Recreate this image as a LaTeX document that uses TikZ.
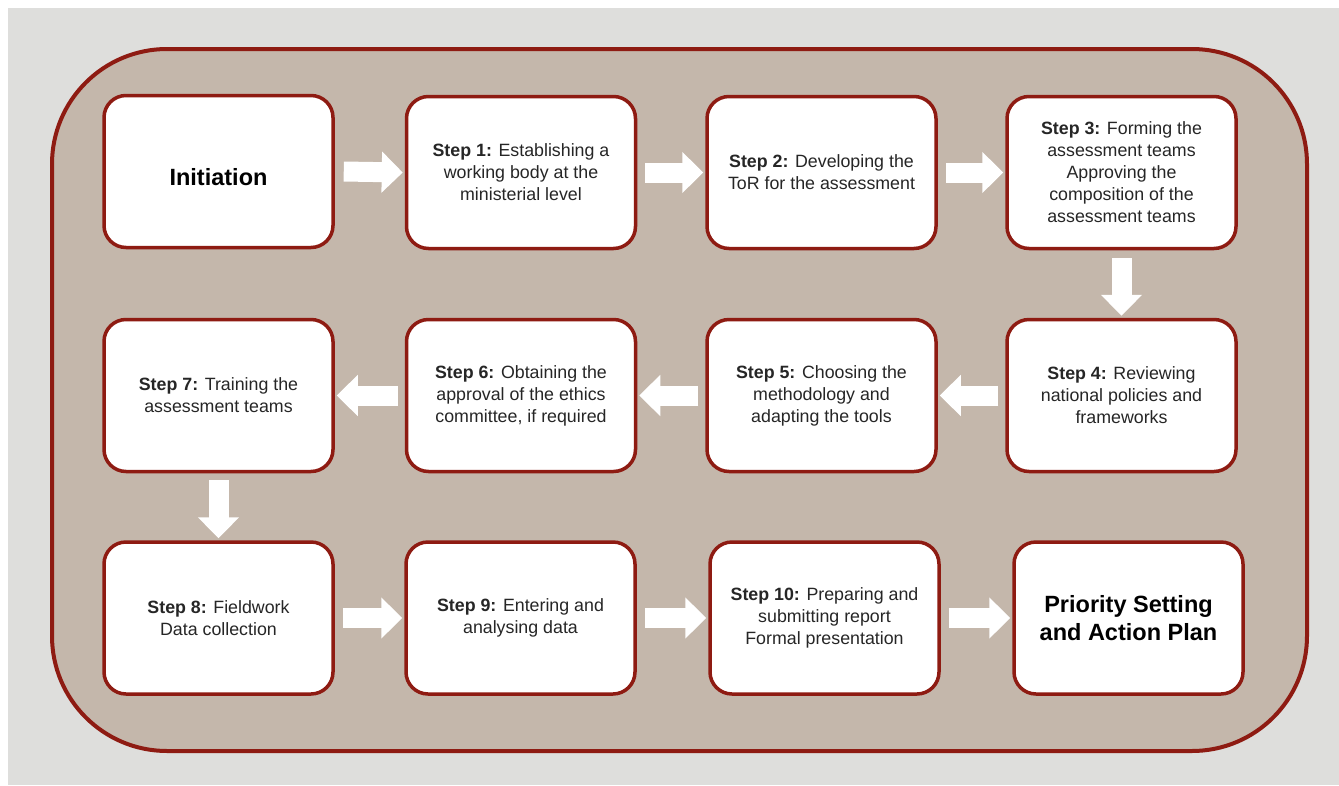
\documentclass[tikz,border=0pt]{standalone}
\usepackage{fontspec}
\setmainfont{Liberation Sans}
\usetikzlibrary{arrows.meta}
\definecolor{bggrey}{HTML}{DEDEDC}
\definecolor{framefill}{HTML}{C4B7AB}
\definecolor{darkred}{HTML}{8E1B12}
\definecolor{textgrey}{HTML}{262626}
\begin{document}
\begin{tikzpicture}[x=1pt,y=-1pt,
  box/.style={draw=darkred,line width=3.5pt,fill=white,rounded corners=22pt,minimum width=229pt,minimum height=152pt,align=center,text=textgrey,font=\fontsize{17.8}{22}\selectfont},
  title/.style={box,text=black,font=\fontsize{23.5}{28}\selectfont\bfseries},
  blockarrow/.style={draw=white,line width=20pt,-{Triangle[length=21pt,width=40pt,fill=white]}}]
\useasboundingbox (0,0) rectangle (1339,785);
\fill[bggrey] (8,8) rectangle (1339,785);
\draw[darkred,fill=framefill,line width=4pt,rounded corners=115pt] (52,49) rectangle (1307,751);

\node[title,text height=27pt,text depth=0pt] (init) at (218.5,171.5) {Initiation};
\node[box] (s1) at (521,172.5) {\textbf{Step 1:} Establishing a\\working body at the\\ministerial level};
\node[box] (s2) at (821.5,172.5) {\textbf{Step 2:} Developing the\\ToR for the assessment};
\node[box] (s3) at (1121.5,172.5) {\textbf{Step 3:} Forming the\\assessment teams\\Approving the\\composition of the\\assessment teams};

\node[box] (s4) at (1121.5,395.5) {\textbf{Step 4:} Reviewing\\national policies and\\frameworks};
\node[box] (s5) at (821.5,395.5) {\textbf{Step 5:} Choosing the\\methodology and\\adapting the tools};
\node[box] (s6) at (521,395.5) {\textbf{Step 6:} Obtaining the\\approval of the ethics\\committee, if required};
\node[box] (s7) at (218.5,395.5) {\textbf{Step 7:} Training the\\assessment teams};

\node[box] (s8) at (218.5,618) {\textbf{Step 8:} Fieldwork\\Data collection};
\node[box] (s9) at (520.5,618) {\textbf{Step 9:} Entering and\\analysing data};
\node[box] (s10) at (824.5,618) {\textbf{Step 10:} Preparing and\\submitting report\\Formal presentation};
\node[title] (plan) at (1128.5,618) {Priority Setting\\and Action Plan};

\draw[blockarrow] ([xshift=9pt]init.east) -- ([xshift=-2pt]s1.west);
\draw[blockarrow] ([xshift=8pt]s1.east) -- ([xshift=-2pt]s2.west);
\draw[blockarrow] ([xshift=8pt]s2.east) -- ([xshift=-2pt]s3.west);
\draw[blockarrow] ([yshift=-8pt]s3.south) -- ([yshift=2pt]s4.north);
\draw[blockarrow] ([xshift=-7pt]s4.west) -- ([xshift=2pt]s5.east);
\draw[blockarrow] ([xshift=-7pt]s5.west) -- ([xshift=2pt]s6.east);
\draw[blockarrow] ([xshift=-7pt]s6.west) -- ([xshift=2pt]s7.east);
\draw[blockarrow] ([yshift=-7pt]s7.south) -- ([yshift=2pt]s8.north);
\draw[blockarrow] ([xshift=8pt]s8.east) -- ([xshift=-2pt]s9.west);
\draw[blockarrow] ([xshift=8pt]s9.east) -- ([xshift=-2pt]s10.west);
\draw[blockarrow] ([xshift=8pt]s10.east) -- ([xshift=-2pt]plan.west);
\end{tikzpicture}
\end{document}
